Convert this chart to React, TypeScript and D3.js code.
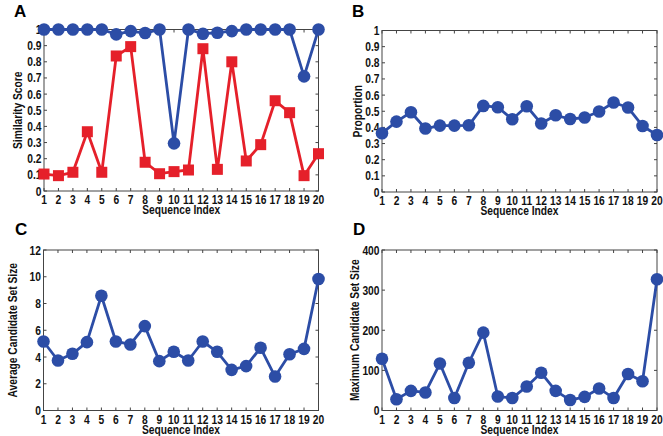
import React from "react";
import * as d3 from "d3";

const indices = d3.range(1, 21);

const simBlue = [1, 1, 1, 1, 1, 0.97, 0.99, 0.978, 1, 0.295, 1, 0.974, 0.98, 0.99, 1, 1, 1, 1, 0.71, 1];
const simRed = [0.105, 0.095, 0.116, 0.367, 0.116, 0.836, 0.894, 0.178, 0.107, 0.12, 0.13, 0.881, 0.134, 0.8, 0.186, 0.287, 0.559, 0.485, 0.095, 0.231];
const proportion = [0.364, 0.436, 0.494, 0.393, 0.411, 0.411, 0.413, 0.533, 0.525, 0.45, 0.531, 0.424, 0.475, 0.452, 0.461, 0.498, 0.554, 0.523, 0.409, 0.353];
const avgSize = [5.16, 3.74, 4.24, 5.11, 8.58, 5.16, 4.94, 6.31, 3.69, 4.39, 3.74, 5.16, 4.39, 3.04, 3.32, 4.69, 2.54, 4.21, 4.61, 9.83];
const maxSize = [129, 28, 49, 45, 117, 31, 119, 194, 35, 31, 60, 94, 49, 26, 34, 55, 31, 91, 73, 327];

const ticksA = d3.range(0, 11).map((d) => d / 10);
const ticksB = d3.range(0, 11).map((d) => d / 10);
const ticksC = [0, 2, 4, 6, 8, 10, 12];
const ticksD = [0, 100, 200, 300, 400];

const BLUE = "#2c4da6";
const RED = "#e5202a";
const FONT = "'Liberation Sans', Arial, sans-serif";
const SX = 0.82;

type Series = { values: number[]; color: string; marker: "circle" | "square" };

type PanelProps = {
  letter: string;
  left: number;
  right: number;
  top: number;
  bottom: number;
  yMax: number;
  yTicks: number[];
  yLabel: string;
  series: Series[];
  labelX: number;
  letterX: number;
  letterY: number;
};

function fmt(v: number) {
  return String(Math.round(v * 100) / 100);
}

function T(props: { x: number; y: number; rot?: number; anchor: string; children: React.ReactNode; size?: number }) {
  const r = props.rot ? ` rotate(${props.rot})` : "";
  return (
    <text
      transform={`translate(${props.x},${props.y})${r} scale(${SX},1)`}
      textAnchor={props.anchor}
      fontFamily={FONT}
      fontWeight="bold"
      fontSize={props.size || 13}
      fill="#111"
    >
      {props.children}
    </text>
  );
}

function Panel(p: PanelProps) {
  const x = d3.scaleLinear().domain([1, 20]).range([p.left, p.right]);
  const y = d3.scaleLinear().domain([0, p.yMax]).range([p.bottom, p.top]);
  const tl = 3;
  const line = d3
    .line<number>()
    .x((_, i) => x(indices[i]))
    .y((d) => y(d));
  return (
    <g>
      <text x={p.letterX} y={p.letterY} fontFamily={FONT} fontWeight="bold" fontSize={17}>
        {p.letter}
      </text>
      <rect x={p.left} y={p.top} width={p.right - p.left} height={p.bottom - p.top} fill="none" stroke="#444" strokeWidth={1} />
      {indices.map((i) => (
        <g key={"xt" + i}>
          <line x1={x(i)} x2={x(i)} y1={p.bottom} y2={p.bottom - tl} stroke="#444" />
          <line x1={x(i)} x2={x(i)} y1={p.top} y2={p.top + tl} stroke="#444" />
          <T x={x(i)} y={p.bottom + 13} anchor="middle" size={12.5}>
            {i}
          </T>
        </g>
      ))}
      {p.yTicks.map((t) => (
        <g key={"yt" + t}>
          <line x1={p.left} x2={p.left + tl} y1={y(t)} y2={y(t)} stroke="#444" />
          <line x1={p.right} x2={p.right - tl} y1={y(t)} y2={y(t)} stroke="#444" />
          <T x={p.left - 2.5} y={y(t) + 4.5} anchor="end" size={12.5}>
            {fmt(t)}
          </T>
        </g>
      ))}
      <T x={(p.left + p.right) / 2} y={p.bottom + 23} anchor="middle" size={12.5}>
        Sequence Index
      </T>
      <T x={p.labelX} y={(p.top + p.bottom) / 2} rot={-90} anchor="middle" size={12.5}>
        {p.yLabel}
      </T>
      {p.series.map((s, si) => (
        <g key={"s" + si}>
          <path d={line(s.values) || ""} fill="none" stroke={s.color} strokeWidth={2.8} strokeLinejoin="round" />
          {s.values.map((v, i) =>
            s.marker === "circle" ? (
              <circle key={i} cx={x(indices[i])} cy={y(v)} r={6.3} fill={s.color} />
            ) : (
              <rect key={i} x={x(indices[i]) - 5.5} y={y(v) - 5.5} width={11} height={11} fill={s.color} />
            )
          )}
        </g>
      ))}
    </g>
  );
}

export default function App() {
  return (
    <svg width={663} height={436} style={{ position: "absolute", left: 0, top: 0, background: "#fff" }}>
      <rect width={663} height={436} fill="#fff" />
      <Panel
        letter="A"
        left={44}
        right={318.5}
        top={29.5}
        bottom={191}
        yMax={1}
        yTicks={ticksA}
        yLabel="Similarity Score"
        labelX={22}
        letterX={14}
        letterY={17}
        series={[
          { values: simBlue, color: BLUE, marker: "circle" },
          { values: simRed, color: RED, marker: "square" },
        ]}
      />
      <Panel
        letter="B"
        left={382}
        right={657}
        top={30.5}
        bottom={192}
        yMax={1}
        yTicks={ticksB}
        yLabel="Proportion"
        labelX={362}
        letterX={352}
        letterY={17}
        series={[{ values: proportion, color: BLUE, marker: "circle" }]}
      />
      <Panel
        letter="C"
        left={43.5}
        right={318.5}
        top={250}
        bottom={410.5}
        yMax={12}
        yTicks={ticksC}
        yLabel="Average Candidate Set Size"
        labelX={17}
        letterX={15}
        letterY={235}
        series={[{ values: avgSize, color: BLUE, marker: "circle" }]}
      />
      <Panel
        letter="D"
        left={382}
        right={657}
        top={250}
        bottom={410.5}
        yMax={400}
        yTicks={ticksD}
        yLabel="Maximum Candidate Set Size"
        labelX={359}
        letterX={353}
        letterY={235}
        series={[{ values: maxSize, color: BLUE, marker: "circle" }]}
      />
    </svg>
  );
}
